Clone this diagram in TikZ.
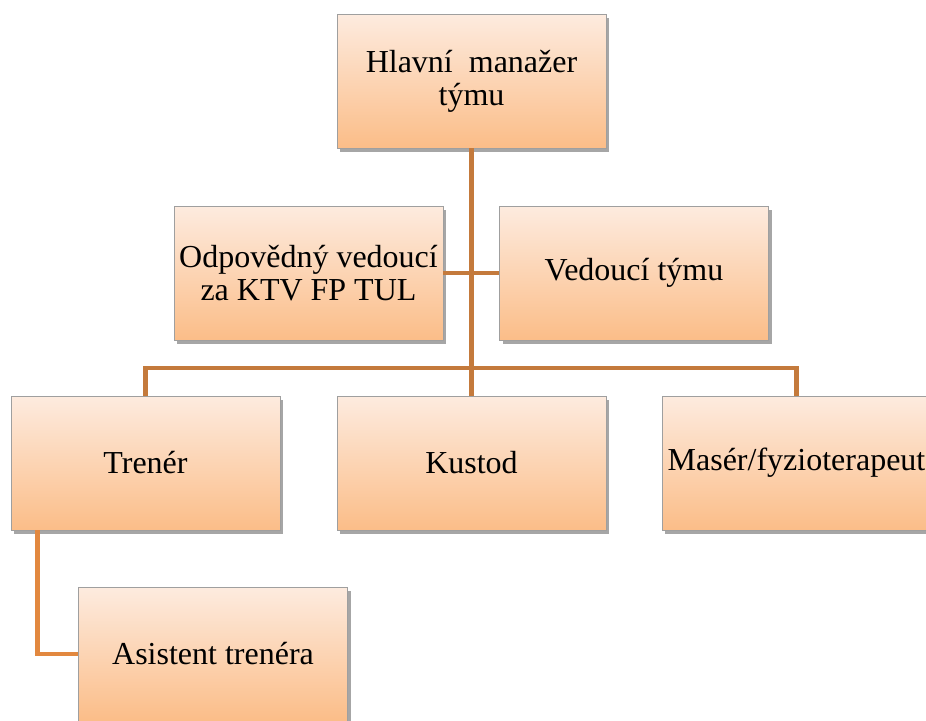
\documentclass[tikz,border=0pt]{standalone}
\usepackage{fontspec}
\setmainfont{Liberation Serif}
\usetikzlibrary{shadows}
\definecolor{boxtop}{HTML}{FDEBDF}
\definecolor{boxbottom}{HTML}{FBBD88}
\definecolor{linka}{HTML}{C47A3C}
\definecolor{linkb}{HTML}{E2883F}
\begin{document}
\begin{tikzpicture}[x=1pt, y=-1pt,
		role/.style={draw=gray!75, line width=0.8pt, top color=boxtop, bottom color=boxbottom,
			minimum width=269pt, minimum height=134pt, inner sep=2pt, align=center,
			font=\fontsize{32}{33}\selectfont,
			drop shadow={shadow xshift=3pt, shadow yshift=-4pt, fill=black, opacity=0.35}},
		conn/.style={draw=linka, line width=4.5pt},
		connb/.style={draw=linkb, line width=4.5pt}]
		\useasboundingbox (0,0) rectangle (926,720);

		\node[role] (hlavni) at (471.5,81) {Hlavní~~manažer\\týmu};
		\node[role] (odpovedny) at (308.5,273) {Odpovědný vedoucí\\za KTV FP TUL};
		\node[role] (vedouci) at (634,273) {Vedoucí týmu};
		\node[role] (trener) at (145.5,463) {Trenér};
		\node[role] (kustod) at (471.5,463) {Kustod};
		\node[role] (maser) at (796.5,463) {Masér/fyzioterapeut};
		\node[role] (asistent) at (213,654) {Asistent trenéra};

		\coordinate (bus) at (471.5,368);

		\draw[conn] (hlavni.south) -- (bus);
		\draw[conn] (odpovedny.east) -- (vedouci.west);
		\draw[conn] (trener.north) |- (bus) -| (maser.north);
		\draw[conn] (bus) -- (kustod.north);
		\draw[connb] ([xshift=27pt]trener.south west) |- (asistent.west);

	\end{tikzpicture}
\end{document}
